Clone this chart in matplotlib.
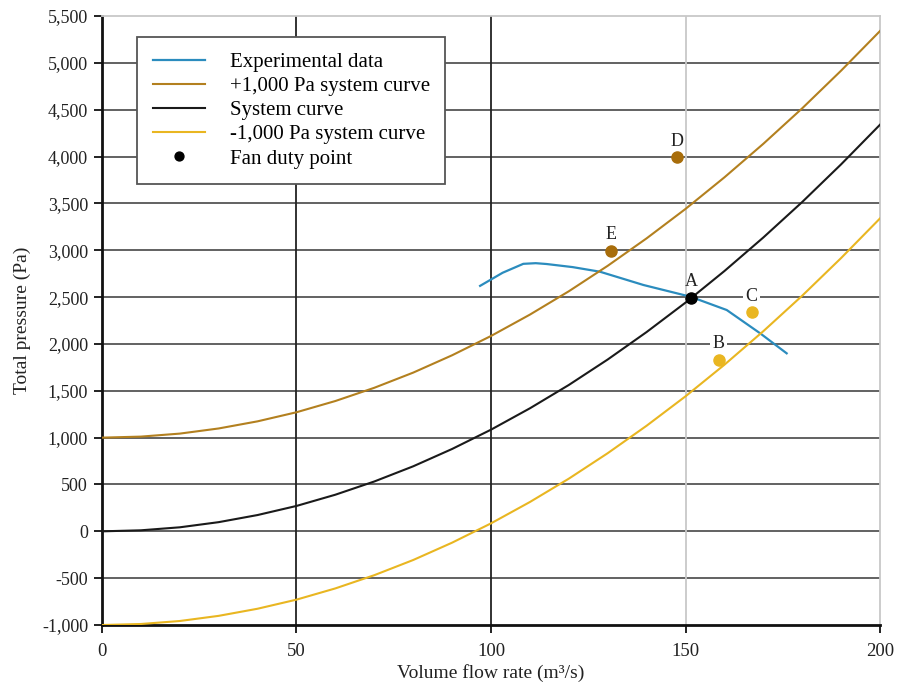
import matplotlib.pyplot as plt
from matplotlib.ticker import FuncFormatter, MultipleLocator

plt.rcParams["font.family"] = ["Liberation Serif", "DejaVu Serif"]

# volume flow rate grid for the system curves (m^3/s)
flow = [0, 10, 20, 30, 40, 50, 60, 70, 80, 90, 100,
        110, 120, 130, 140, 150, 160, 170, 180, 190, 200]
system = [0, 11, 43, 98, 174, 271, 391, 532, 694, 879, 1085,
          1313, 1562, 1834, 2127, 2441, 2778, 3136, 3515, 3917, 4340]
system_plus = [1000, 1011, 1043, 1098, 1174, 1271, 1391, 1532, 1694, 1879, 2085,
               2313, 2562, 2834, 3127, 3441, 3778, 4136, 4515, 4917, 5340]
system_minus = [-1000, -989, -957, -902, -826, -729, -609, -468, -306, -121, 85,
                313, 562, 834, 1127, 1441, 1778, 2136, 2515, 2917, 3340]

# experimental fan curve
exp_flow = [97.2, 103.0, 108.3, 111.5, 114.3, 121.0, 128.0, 139.2, 151.3, 160.6, 169.2, 176.0]
exp_pressure = [2620, 2760, 2855, 2862, 2853, 2820, 2771, 2629, 2504, 2362, 2113, 1900]

# labelled points
pt_names = ["A", "B", "C", "D", "E"]
pt_flow = [151.5, 158.5, 167.0, 147.8, 130.8]
pt_pressure = [2495, 1833, 2338, 3995, 2995]

BLUE = "#2b8cbe"
BROWN = "#b3801f"
YELLOW = "#e9b621"
pt_colors = {"A": "black", "B": YELLOW, "C": YELLOW, "D": "#a86d0a", "E": "#a86d0a"}

fig = plt.figure(figsize=(9, 6.87), dpi=100)
ax = fig.add_axes([0.1133, 0.0902, 0.8645, 0.8865])

# grid drawn by hand so each line can take its own shade
for y in range(-500, 5500, 500):
    ax.axhline(y, color="#555555", lw=1.3, zorder=1)
for x, c in [(50, "#222222"), (100, "#222222"), (150, "#c8c8c8")]:
    ax.axvline(x, color=c, lw=1.3, zorder=1)

ax.plot(exp_flow, exp_pressure, color=BLUE, lw=1.6, label="Experimental data", zorder=3)
ax.plot(flow, system_plus, color=BROWN, lw=1.5, label="+1,000 Pa system curve", zorder=3)
ax.plot(flow, system, color="#1a1a1a", lw=1.5, label="System curve", zorder=3)
ax.plot(flow, system_minus, color=YELLOW, lw=1.5, label="-1,000 Pa system curve", zorder=3)

for name, q, p in zip(pt_names, pt_flow, pt_pressure):
    ax.plot(q, p, "o", color=pt_colors[name], ms=8, zorder=5,
            label="Fan duty point" if name == "A" else None)
    ax.annotate(name, (q, p), xytext=(0, 11.5), textcoords="offset points",
                ha="center", va="center", fontsize=13, color="#222222", zorder=4,
                bbox=dict(boxstyle="square,pad=0.12", fc="white", ec="none")
                if name in ("B", "C") else None)

ax.set_xlim(0, 200)
ax.set_ylim(-1000, 5500)
ax.xaxis.set_major_locator(MultipleLocator(50))
ax.yaxis.set_major_locator(MultipleLocator(500))
ax.yaxis.set_major_formatter(FuncFormatter(lambda v, _: f"{int(v):,}"))

for side in ("left", "bottom"):
    ax.spines[side].set_linewidth(2)
    ax.spines[side].set_color("#111111")
for side in ("top", "right"):
    ax.spines[side].set_linewidth(1.3)
    ax.spines[side].set_color("#c8c8c8")

ax.tick_params(direction="out", length=6, width=1.3,
               colors="#111111", labelcolor="#222222")
ax.tick_params(axis="x", labelsize=13.5, pad=7)
ax.tick_params(axis="y", labelsize=13, pad=4)
xt = ax.xaxis.get_major_ticks()
for t in xt[3:]:
    t.tick1line.set_color("#c8c8c8")
ax.yaxis.get_major_ticks()[-1].tick1line.set_color("#c8c8c8")

ax.set_xlabel("Volume flow rate (m³/s)", fontsize=14, color="#222222", labelpad=3)
ax.set_ylabel("Total pressure (Pa)", fontsize=14, color="#222222", labelpad=8)

leg = ax.legend(loc="upper left", bbox_to_anchor=(0.045, 0.966), fontsize=15,
                handlelength=2.5, handletextpad=1.2, labelspacing=0.22,
                borderpad=0.75, borderaxespad=0, fancybox=False, framealpha=1,
                edgecolor="#555555", markerscale=0.8)
leg.get_frame().set_linewidth(1.3)
leg.set_zorder(6)

fig.savefig("out.png", dpi=100)
